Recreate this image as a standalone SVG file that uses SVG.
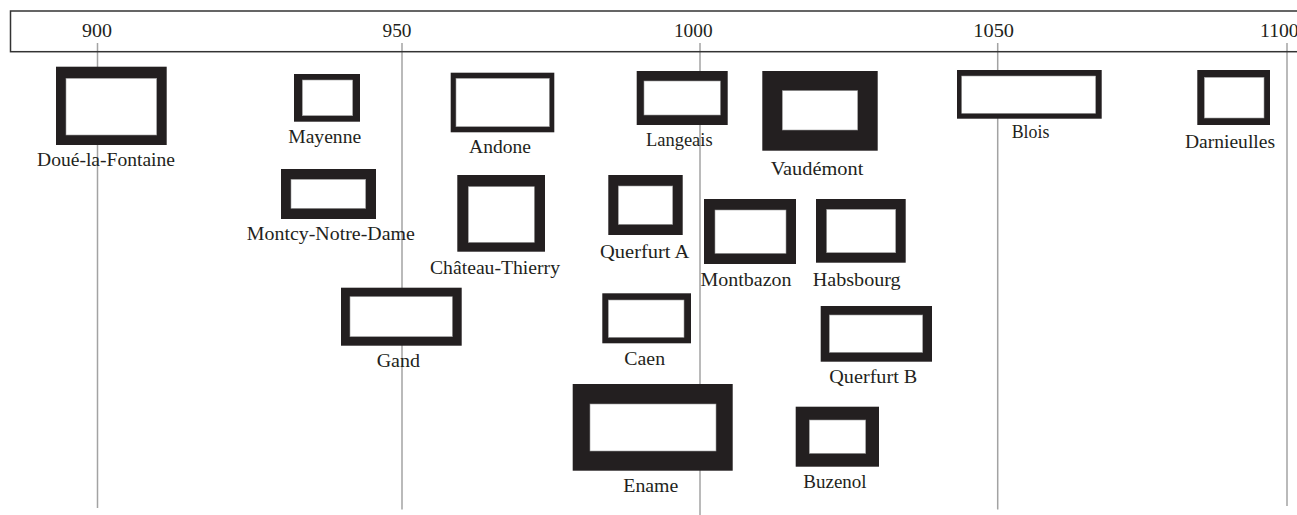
<svg xmlns="http://www.w3.org/2000/svg" width="1297" height="515" viewBox="0 0 1297 515" font-family="Liberation Serif, Times New Roman, serif">
<style>
.frame{fill:#231f20}
.hole{fill:#ffffff;stroke:#9a9a9a;stroke-width:0.6}
text{font-family:"Liberation Serif", "Times New Roman", serif}
.lbl{font-size:18px;fill:#231f20;text-anchor:middle}
.tick{font-size:19px;fill:#231f20;text-anchor:middle}
.grid{stroke:#a3a3a3;stroke-width:1.5;fill:none}
</style>
<rect width="1297" height="515" fill="#ffffff"/>
<g id="connectors" class="grid">
<line x1="97.5" y1="43" x2="97.5" y2="508"/>
<line x1="402" y1="43" x2="402" y2="509.5"/>
<line x1="700" y1="43" x2="700" y2="515"/>
<line x1="997.7" y1="43" x2="997.7" y2="509.5"/>
<line x1="1287" y1="43" x2="1287" y2="506"/>
</g>
<g id="axis">
<rect x="10.5" y="11" width="1300" height="40.7" fill="none" stroke="#333333" stroke-width="1.5"/>
<text class="tick" x="97" y="36.7" textLength="30" lengthAdjust="spacingAndGlyphs">900</text>
<text class="tick" x="397" y="36.7" textLength="29" lengthAdjust="spacingAndGlyphs">950</text>
<text class="tick" x="693.3" y="36.7" textLength="38.7" lengthAdjust="spacingAndGlyphs">1000</text>
<text class="tick" x="993.7" y="36.7" textLength="40.7" lengthAdjust="spacingAndGlyphs">1050</text>
<text class="tick" x="1260" y="36.7" style="text-anchor:start" textLength="38.7" lengthAdjust="spacingAndGlyphs">1100</text>
</g>
<g id="doue"><rect class="frame" x="56" y="66.7" width="110.7" height="78.3"/><rect class="hole" x="66" y="78.3" width="90.7" height="56.7"/><text class="lbl" x="106" y="165.7" textLength="138" lengthAdjust="spacingAndGlyphs">Doué-la-Fontaine</text></g>
<g id="mayenne"><rect class="frame" x="294" y="74" width="66" height="47.7"/><rect class="hole" x="302.3" y="80" width="50.4" height="35.7"/><text class="lbl" x="324.7" y="143.3" textLength="73" lengthAdjust="spacingAndGlyphs">Mayenne</text></g>
<g id="andone"><rect class="frame" x="450.7" y="72.7" width="103.6" height="59.6"/><rect class="hole" x="456" y="78.3" width="93.3" height="48.4"/><text class="lbl" x="500" y="152.7" textLength="62" lengthAdjust="spacingAndGlyphs">Andone</text></g>
<g id="langeais"><rect class="frame" x="636.7" y="71" width="91" height="54"/><rect class="hole" x="644" y="81" width="76.3" height="34"/><text class="lbl" x="679.3" y="145.7" textLength="66.7" lengthAdjust="spacingAndGlyphs">Langeais</text></g>
<g id="vaudemont"><rect class="frame" x="762.3" y="71" width="115.4" height="79.7"/><rect class="hole" x="782.3" y="90.7" width="75.4" height="39.3"/><text class="lbl" x="817" y="175" textLength="92.7" lengthAdjust="spacingAndGlyphs">Vaudémont</text></g>
<g id="blois"><rect class="frame" x="957" y="70" width="144.7" height="48.7"/><rect class="hole" x="961.7" y="76" width="134" height="37.3"/><text class="lbl" x="1030.5" y="138.3" textLength="37.7" lengthAdjust="spacingAndGlyphs">Blois</text></g>
<g id="darnieulles"><rect class="frame" x="1197.3" y="70" width="72.7" height="55"/><rect class="hole" x="1204.3" y="77.3" width="59.7" height="40.7"/><text class="lbl" x="1230" y="148.3" textLength="90" lengthAdjust="spacingAndGlyphs">Darnieulles</text></g>
<g id="montcy"><rect class="frame" x="281" y="169" width="95" height="50"/><rect class="hole" x="291" y="179.3" width="74.7" height="29"/><text class="lbl" x="330.8" y="240" textLength="168" lengthAdjust="spacingAndGlyphs">Montcy-Notre-Dame</text></g>
<g id="chateau-thierry"><rect class="frame" x="457.3" y="175" width="87.7" height="76.7"/><rect class="hole" x="468.3" y="186.7" width="66" height="55.6"/><text class="lbl" x="495" y="274.3" textLength="130" lengthAdjust="spacingAndGlyphs">Château-Thierry</text></g>
<g id="querfurt-a"><rect class="frame" x="608.3" y="175" width="74.4" height="60"/><rect class="hole" x="618.3" y="186" width="54.4" height="38.3"/><text class="lbl" x="644.7" y="257.7" textLength="89.3" lengthAdjust="spacingAndGlyphs">Querfurt A</text></g>
<g id="gand"><rect class="frame" x="341" y="287.7" width="120.7" height="58"/><rect class="hole" x="350" y="296.7" width="102.3" height="40"/><text class="lbl" x="398.3" y="366.7" textLength="43.3" lengthAdjust="spacingAndGlyphs">Gand</text></g>
<g id="caen"><rect class="frame" x="602.3" y="293.3" width="88.7" height="50"/><rect class="hole" x="608.3" y="300" width="75.7" height="37.3"/><text class="lbl" x="644.7" y="365" textLength="40.7" lengthAdjust="spacingAndGlyphs">Caen</text></g>
<g id="montbazon"><rect class="frame" x="704" y="199" width="92" height="65"/><rect class="hole" x="715" y="210" width="71" height="43.3"/><text class="lbl" x="746" y="285.7" textLength="91" lengthAdjust="spacingAndGlyphs">Montbazon</text></g>
<g id="habsbourg"><rect class="frame" x="816" y="199" width="89.7" height="63.7"/><rect class="hole" x="826.7" y="209.3" width="69" height="43.4"/><text class="lbl" x="856.7" y="285.7" textLength="88" lengthAdjust="spacingAndGlyphs">Habsbourg</text></g>
<g id="querfurt-b"><rect class="frame" x="820.7" y="306" width="111.3" height="55.7"/><rect class="hole" x="829.3" y="315" width="93.4" height="37.3"/><text class="lbl" x="873.3" y="382.7" textLength="88" lengthAdjust="spacingAndGlyphs">Querfurt B</text></g>
<g id="ename"><rect class="frame" x="572.7" y="384" width="160" height="86.7"/><rect class="hole" x="590" y="404" width="126" height="47"/><text class="lbl" x="650.8" y="491.7" textLength="55" lengthAdjust="spacingAndGlyphs">Ename</text></g>
<g id="buzenol"><rect class="frame" x="795.7" y="406.7" width="83.3" height="60"/><rect class="hole" x="809.3" y="420" width="56.4" height="33.3"/><text class="lbl" x="835" y="488.3" textLength="63.3" lengthAdjust="spacingAndGlyphs">Buzenol</text></g>
</svg>
